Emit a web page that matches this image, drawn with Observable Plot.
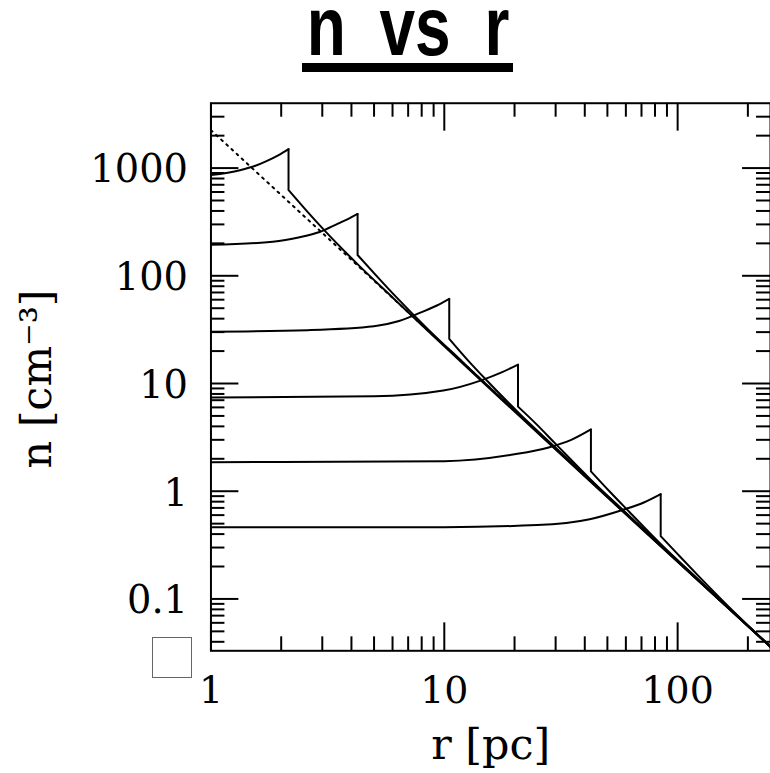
<!DOCTYPE html>
<html><head><meta charset="utf-8">
<script src="https://cdn.jsdelivr.net/npm/d3@7"></script>
<script src="https://cdn.jsdelivr.net/npm/@observablehq/plot@0.6"></script>
<style>
html,body{margin:0;padding:0;background:#fff;overflow:hidden;width:770px;height:773px;}
#wrap{position:relative;width:770px;height:773px;overflow:hidden;}
#chart{position:absolute;left:0;top:0;}
#title{position:absolute;left:0;top:0;}
#box{position:absolute;left:152px;top:637px;width:40px;height:41px;border:1px solid #666;box-sizing:border-box;}
</style></head>
<body><div id="wrap"><div id="chart"></div><svg id="title" width="770" height="80"></svg><div id="box"></div></div>
<script>
// ---- data ----
const titleText = "n vs r";
const xLabel = "r [pc]";
const yLabel = "n [cm\u207B\u00B3]";
const xTickValues = [1, 10, 100];
const xTickLabels = ["1", "10", "100"];
const yTickValues = [0.1, 1, 10, 100, 1000];
const yTickLabels = ["0.1", "1", "10", "100", "1000"];
const xDomain = [1, 250];
const yDomain = [0.033, 4000];

// dotted reference power law n ∝ r^-2
const powerLaw = [[1, 2250], [250, 0.036]];

// density profiles: interior (up to shock peak) and post-shock part
const profile1Inner = [[1, 860], [1.33, 955], [1.55, 1050], [1.73, 1160], [1.95, 1320], [2.15, 1500]];
const profile1Outer = [[2.15, 625], [2.6, 390], [3.1, 257], [4.3, 125], [6, 63], [250, 0.036]];
const profile2Inner = [[1, 194], [1.84, 207], [2.4, 228], [2.92, 255], [3.5, 305], [3.9, 340], [4.25, 375]];
const profile2Outer = [[4.25, 156], [5.1, 101], [6.2, 64], [8.5, 32], [12, 15.8], [250, 0.036]];
const profile3Inner = [[1, 30.3], [2.6, 31.3], [5, 34], [6.4, 38], [8, 46], [9.3, 53], [10.5, 61]];
const profile3Outer = [[10.5, 26], [12.6, 16.5], [15, 11], [21, 5.25], [30, 2.53], [250, 0.036]];
const profile4Inner = [[1, 7.4], [5, 7.6], [9.9, 8.6], [14.4, 10.7], [17.5, 12.6], [20.7, 15]];
const profile4Outer = [[20.7, 6.1], [24.8, 4.2], [30, 2.75], [42, 1.31], [60, 0.63], [250, 0.036]];
const profile5Inner = [[1, 1.86], [10, 1.9], [20, 2.2], [28, 2.55], [35, 3.0], [42.5, 3.75]];
const profile5Outer = [[42.5, 1.53], [51, 1.0], [62, 0.645], [85, 0.32], [125, 0.146], [250, 0.036]];
const profile6Inner = [[1, 0.462], [10, 0.464], [25, 0.485], [42, 0.55], [58, 0.67], [72, 0.79], [84.6, 0.94]];
const profile6Outer = [[84.6, 0.383], [101, 0.255], [123, 0.163], [170, 0.08], [250, 0.036]];

const inners = [profile1Inner, profile2Inner, profile3Inner, profile4Inner, profile5Inner, profile6Inner];
const outers = [profile1Outer, profile2Outer, profile3Outer, profile4Outer, profile5Outer, profile6Outer];

// ---- build tables ----
const toRows = (arr) => arr.flatMap((pts, i) => pts.map(([r, n]) => ({id: i, r, n})));
const innerRows = toRows(inners);
const outerRows = toRows(outers);
const shocks = inners.map((pts, i) => ({r: pts[pts.length - 1][0], peak: pts[pts.length - 1][1], post: outers[i][0][1]}));
const dotted = powerLaw.map(([r, n]) => ({r, n}));

const minor = (lo, hi) => {
  const out = [];
  for (let e = -3; e <= 4; e++) for (let k = 2; k <= 9; k++) {
    const v = k * Math.pow(10, e);
    if (v > lo && v < hi) out.push(+v.toPrecision(3));
  }
  return out;
};
const xMinor = minor(xDomain[0], xDomain[1]);
const yMinor = minor(yDomain[0], yDomain[1]);

const W = 772, H = 773, mL = 211, mR = 0, mT = 103, mB = 121;
const fW = W - mL - mR, fH = H - mT - mB;
const major = 28, minorLen = 14;
const serif = "DejaVu Serif, serif";

const plot = Plot.plot({
  width: W, height: H,
  marginLeft: mL, marginRight: mR, marginTop: mT, marginBottom: mB,
  style: {background: "white", color: "black", overflow: "visible"},
  x: {type: "log", domain: xDomain, axis: null},
  y: {type: "log", domain: yDomain, axis: null},
  marks: [
    // ticks, inward on all four sides
    Plot.tickX(xTickValues, {x: d => d, insetBottom: fH - major, strokeWidth: 2}),
    Plot.tickX(xTickValues, {x: d => d, insetTop: fH - major, strokeWidth: 2}),
    Plot.tickX(xMinor, {x: d => d, insetBottom: fH - minorLen, strokeWidth: 2}),
    Plot.tickX(xMinor, {x: d => d, insetTop: fH - minorLen, strokeWidth: 2}),
    Plot.tickY(yTickValues, {y: d => d, insetRight: fW - major, strokeWidth: 2}),
    Plot.tickY(yTickValues, {y: d => d, insetLeft: fW - major, strokeWidth: 2}),
    Plot.tickY(yMinor, {y: d => d, insetRight: fW - minorLen, strokeWidth: 2}),
    Plot.tickY(yMinor, {y: d => d, insetLeft: fW - minorLen, strokeWidth: 2}),
    // dotted power law
    Plot.line(dotted, {x: "r", y: "n", stroke: "black", strokeWidth: 2, strokeDasharray: "2,5"}),
    // profiles
    Plot.line(innerRows, {x: "r", y: "n", z: "id", stroke: "black", strokeWidth: 2, curve: "monotone-x"}),
    Plot.ruleX(shocks, {x: "r", y1: "post", y2: "peak", stroke: "black", strokeWidth: 2}),
    Plot.line(outerRows, {x: "r", y: "n", z: "id", stroke: "black", strokeWidth: 2, curve: "monotone-x"}),
    Plot.frame({stroke: "black", strokeWidth: 2}),
    // tick labels
    Plot.text(yTickValues, {y: d => d, text: (d, i) => yTickLabels[i], frameAnchor: "left", textAnchor: "end", dx: -23, dy: 2, fontSize: 38.5, fontFamily: serif, fill: "black"}),
    Plot.text(xTickValues, {x: d => d, text: (d, i) => xTickLabels[i], frameAnchor: "bottom", lineAnchor: "top", dy: 25, fontSize: 38, fontFamily: serif, fill: "black"}),
    // axis titles
    Plot.text([xLabel], {text: d => d, frameAnchor: "bottom", textAnchor: "middle", lineAnchor: "middle", dy: 95, fontSize: 43, fontFamily: serif, fill: "black"}),
    Plot.text([yLabel], {text: d => d, frameAnchor: "left", textAnchor: "middle", lineAnchor: "middle", rotate: -90, dx: -174, dy: 2, fontSize: 43, fontFamily: serif, fill: "black"})
  ]
});
document.getElementById("chart").appendChild(plot);

// title
const tsvg = d3.select("#title");
tsvg.append("text")
  .attr("transform", "translate(408,55) scale(1,1.3)")
  .attr("text-anchor", "middle")
  .attr("font-family", "Liberation Sans, Arial, sans-serif")
  .attr("font-weight", "bold")
  .attr("font-size", 64)
  .style("word-spacing", "16px")
  .text(titleText);
tsvg.append("rect").attr("x", 302).attr("y", 63).attr("width", 211).attr("height", 9).attr("fill", "black");
</script></body></html>
